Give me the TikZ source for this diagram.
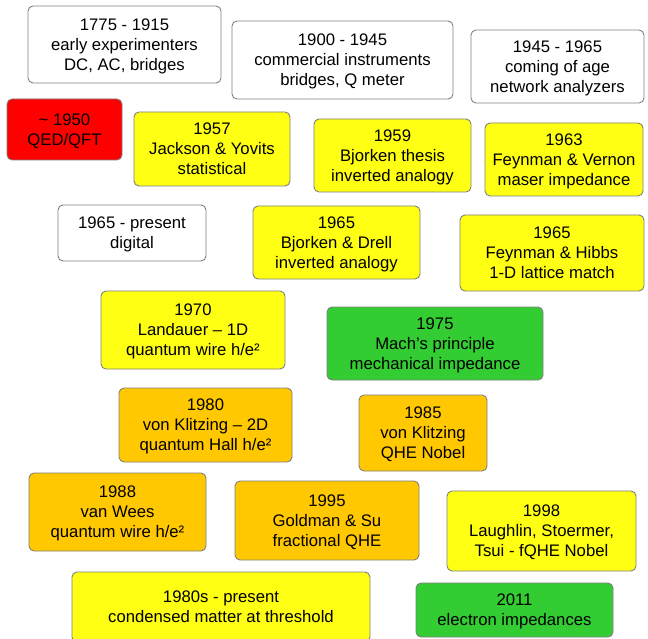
\documentclass[tikz,border=0pt]{standalone}
\usepackage{fontspec}
\setmainfont{Liberation Sans}
\usepackage{tikz}

\definecolor{edgegray}{RGB}{128,128,128}
\definecolor{boxyellow}{RGB}{255,255,20}
\definecolor{boxorange}{RGB}{255,200,0}
\definecolor{boxgreen}{RGB}{51,204,51}
\definecolor{boxred}{RGB}{255,0,0}

\tikzset{
  era/.style={draw=edgegray, line width=0.9pt, rounded corners=5,
    inner sep=0pt, align=center, font=\fontsize{16.7}{20}\selectfont,
    text depth=-1pt},
}

\begin{document}
\begin{tikzpicture}[x=1pt, y=-1pt]
    %----------------------------------------
    % PAGE (648 x 639, y grows downwards)
    %----------------------------------------
    \useasboundingbox (0,0) rectangle (648,639);
    \clip (0,0) rectangle (648,639);

    %----------------------------------------
    % ERAS (white)
    %----------------------------------------
    \node[era, fill=white, minimum width=193, minimum height=77] (early) at (124.5,44.5)
      {1775 - 1915\\early experimenters\\DC, AC, bridges};
    \node[era, fill=white, minimum width=221, minimum height=78] (commercial) at (342.5,60)
      {1900 - 1945\\commercial instruments\\bridges, Q meter};
    \node[era, fill=white, minimum width=173, minimum height=73] (coming) at (557.5,66.5)
      {1945 - 1965\\coming of age\\network analyzers};
    \node[era, fill=white, minimum width=148, minimum height=56] (digital) at (132,233)
      {1965 - present\\digital};

    %----------------------------------------
    % QED / QFT (red)
    %----------------------------------------
    \node[era, fill=boxred, minimum width=115, minimum height=61] (qed) at (64.5,129.5)
      {\textasciitilde\ 1950\\QED/QFT};

    %----------------------------------------
    % YELLOW
    %----------------------------------------
    \node[era, fill=boxyellow, minimum width=156, minimum height=74] (jackson) at (212,149)
      {1957\\Jackson \& Yovits\\statistical};
    \node[era, fill=boxyellow, minimum width=157, minimum height=73] (thesis) at (392.5,155.5)
      {1959\\Bjorken thesis\\inverted analogy};
    \node[era, fill=boxyellow, minimum width=158, minimum height=73] (vernon) at (564,159.5)
      {1963\\Feynman \& Vernon\\maser impedance};
    \node[era, fill=boxyellow, minimum width=167, minimum height=73] (drell) at (336.5,242.5)
      {1965\\Bjorken \& Drell\\inverted analogy};
    \node[era, fill=boxyellow, minimum width=184, minimum height=76] (hibbs) at (552,253)
      {1965\\Feynman \& Hibbs\\1-D lattice match};
    \node[era, fill=boxyellow, minimum width=184, minimum height=78] (landauer) at (193,330)
      {1970\\Landauer – 1D\\quantum wire h/e²};
    \node[era, fill=boxyellow, minimum width=189, minimum height=80] (fqhe) at (541.5,531)
      {1998\\Laughlin, Stoermer,\\Tsui - fQHE Nobel};
    \node[era, fill=boxyellow, minimum width=298, minimum height=70] (condensed) at (221,607)
      {1980s - present\\condensed matter at threshold};

    %----------------------------------------
    % ORANGE
    %----------------------------------------
    \node[era, fill=boxorange, minimum width=173, minimum height=74] (klitzing) at (205.5,425)
      {1980\\von Klitzing – 2D\\quantum Hall h/e²};
    \node[era, fill=boxorange, minimum width=128, minimum height=76] (nobel) at (423,433)
      {1985\\von Klitzing\\QHE Nobel};
    \node[era, fill=boxorange, minimum width=177, minimum height=78] (wees) at (117.5,512)
      {1988\\van Wees\\quantum wire h/e²};
    \node[era, fill=boxorange, minimum width=184, minimum height=79] (goldman) at (327,520.5)
      {1995\\Goldman \& Su\\fractional QHE};

    %----------------------------------------
    % GREEN
    %----------------------------------------
    \node[era, fill=boxgreen, minimum width=216, minimum height=73] (mach) at (435,343.5)
      {1975\\Mach’s principle\\mechanical impedance};
    \node[era, fill=boxgreen, minimum width=197, minimum height=54] (electron) at (514.5,610)
      {2011\\electron impedances};

\end{tikzpicture}
\end{document}
